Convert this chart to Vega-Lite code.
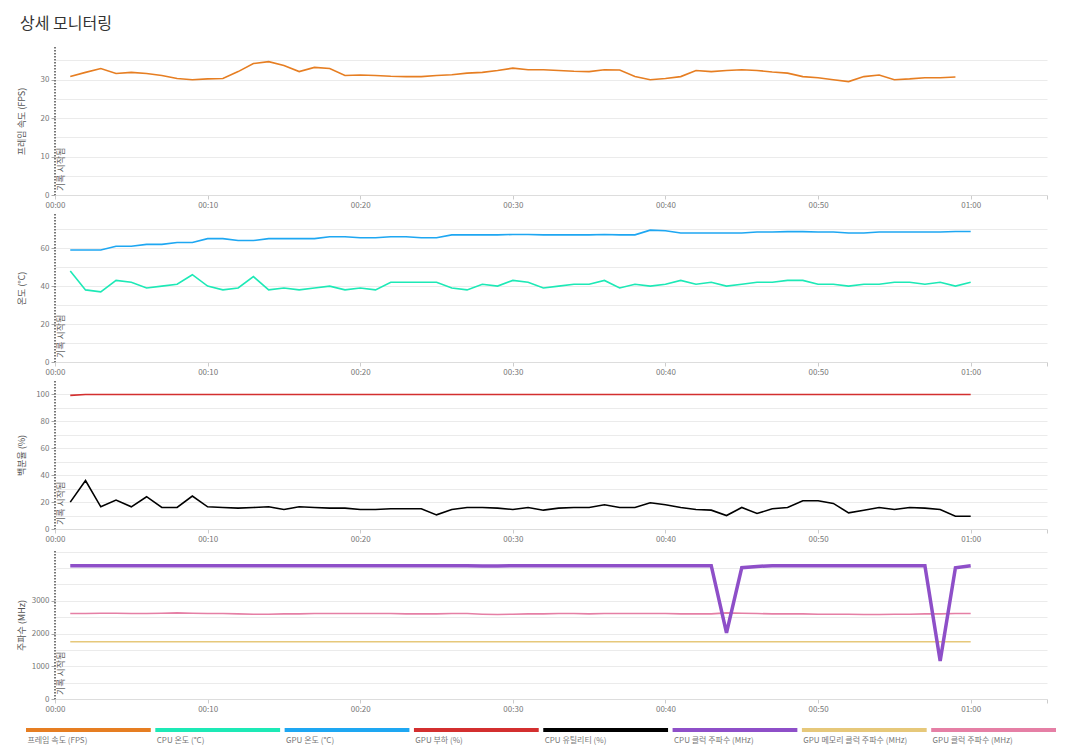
{
  "$schema": "https://vega.github.io/schema/vega-lite/v6.json",
  "background": "#ffffff",
  "padding": {"left": 17, "top": 16, "right": 20, "bottom": 5},
  "title": {"text": "상세 모니터링", "anchor": "start", "frame": "bounds", "fontSize": 16, "font": "Noto Sans CJK KR", "fontWeight": "normal", "color": "#333333", "offset": 14, "dx": 3},
  "config": {
    "font": "Noto Sans CJK KR",
    "view": {"stroke": null},
    "axis": {"labelFont": "Noto Sans CJK KR", "titleFont": "Noto Sans CJK KR", "labelFontSize": 8, "labelColor": "#777777", "titleFontSize": 9, "titleColor": "#555555", "titleFontWeight": "normal", "tickColor": "#aaaaaa", "tickSize": 4, "labelPadding": 2, "gridColor": "#ebebeb", "labelOverlap": false, "labelFlush": false, "tickCount": 30}
  },
  "datasets": {
    "rows": [
      {"t":1,"fps":30.8,"cpuT":48,"gpuT":59,"gpuL":99.3,"cpuU":20,"cpuC":4070,"gpuM":1750,"gpuC":2610},
      {"t":2,"fps":31.9,"cpuT":38,"gpuT":59,"gpuL":100,"cpuU":36,"cpuC":4070,"gpuM":1750,"gpuC":2610},
      {"t":3,"fps":32.9,"cpuT":37,"gpuT":59,"gpuL":100,"cpuU":16.5,"cpuC":4070,"gpuM":1750,"gpuC":2620},
      {"t":4,"fps":31.6,"cpuT":43,"gpuT":61,"gpuL":100,"cpuU":21.5,"cpuC":4070,"gpuM":1750,"gpuC":2620},
      {"t":5,"fps":31.9,"cpuT":42,"gpuT":61,"gpuL":100,"cpuU":16.5,"cpuC":4070,"gpuM":1750,"gpuC":2610},
      {"t":6,"fps":31.6,"cpuT":39,"gpuT":62,"gpuL":100,"cpuU":24,"cpuC":4070,"gpuM":1750,"gpuC":2610},
      {"t":7,"fps":31.1,"cpuT":40,"gpuT":62,"gpuL":100,"cpuU":16,"cpuC":4070,"gpuM":1750,"gpuC":2620},
      {"t":8,"fps":30.3,"cpuT":41,"gpuT":63,"gpuL":100,"cpuU":16,"cpuC":4070,"gpuM":1750,"gpuC":2630},
      {"t":9,"fps":30.0,"cpuT":46,"gpuT":63,"gpuL":100,"cpuU":24.5,"cpuC":4070,"gpuM":1750,"gpuC":2620},
      {"t":10,"fps":30.2,"cpuT":40,"gpuT":65,"gpuL":100,"cpuU":16.5,"cpuC":4070,"gpuM":1750,"gpuC":2610},
      {"t":11,"fps":30.3,"cpuT":38,"gpuT":65,"gpuL":100,"cpuU":16,"cpuC":4070,"gpuM":1750,"gpuC":2610},
      {"t":12,"fps":32.1,"cpuT":39,"gpuT":64,"gpuL":100,"cpuU":15.5,"cpuC":4070,"gpuM":1750,"gpuC":2600},
      {"t":13,"fps":34.2,"cpuT":45,"gpuT":64,"gpuL":100,"cpuU":16,"cpuC":4070,"gpuM":1750,"gpuC":2590},
      {"t":14,"fps":34.7,"cpuT":38,"gpuT":65,"gpuL":100,"cpuU":16.5,"cpuC":4070,"gpuM":1750,"gpuC":2590},
      {"t":15,"fps":33.7,"cpuT":39,"gpuT":65,"gpuL":100,"cpuU":14.5,"cpuC":4070,"gpuM":1750,"gpuC":2600},
      {"t":16,"fps":32.1,"cpuT":38,"gpuT":65,"gpuL":100,"cpuU":16.5,"cpuC":4070,"gpuM":1750,"gpuC":2600},
      {"t":17,"fps":33.2,"cpuT":39,"gpuT":65,"gpuL":100,"cpuU":16,"cpuC":4070,"gpuM":1750,"gpuC":2610},
      {"t":18,"fps":32.9,"cpuT":40,"gpuT":66,"gpuL":100,"cpuU":15.5,"cpuC":4070,"gpuM":1750,"gpuC":2610},
      {"t":19,"fps":31.1,"cpuT":38,"gpuT":66,"gpuL":100,"cpuU":15.5,"cpuC":4070,"gpuM":1750,"gpuC":2610},
      {"t":20,"fps":31.2,"cpuT":39,"gpuT":65.5,"gpuL":100,"cpuU":14.5,"cpuC":4070,"gpuM":1750,"gpuC":2610},
      {"t":21,"fps":31.1,"cpuT":38,"gpuT":65.5,"gpuL":100,"cpuU":14.5,"cpuC":4070,"gpuM":1750,"gpuC":2610},
      {"t":22,"fps":30.9,"cpuT":42,"gpuT":66,"gpuL":100,"cpuU":15,"cpuC":4070,"gpuM":1750,"gpuC":2610},
      {"t":23,"fps":30.8,"cpuT":42,"gpuT":66,"gpuL":100,"cpuU":15,"cpuC":4070,"gpuM":1750,"gpuC":2600},
      {"t":24,"fps":30.8,"cpuT":42,"gpuT":65.5,"gpuL":100,"cpuU":15,"cpuC":4070,"gpuM":1750,"gpuC":2600},
      {"t":25,"fps":31.1,"cpuT":42,"gpuT":65.5,"gpuL":100,"cpuU":10.5,"cpuC":4070,"gpuM":1750,"gpuC":2600},
      {"t":26,"fps":31.3,"cpuT":39,"gpuT":67,"gpuL":100,"cpuU":14.5,"cpuC":4070,"gpuM":1750,"gpuC":2610},
      {"t":27,"fps":31.7,"cpuT":38,"gpuT":67,"gpuL":100,"cpuU":16,"cpuC":4070,"gpuM":1750,"gpuC":2610},
      {"t":28,"fps":31.9,"cpuT":41,"gpuT":67,"gpuL":100,"cpuU":16,"cpuC":4060,"gpuM":1750,"gpuC":2590},
      {"t":29,"fps":32.4,"cpuT":40,"gpuT":67,"gpuL":100,"cpuU":15.5,"cpuC":4060,"gpuM":1750,"gpuC":2580},
      {"t":30,"fps":33.0,"cpuT":43,"gpuT":67.2,"gpuL":100,"cpuU":14.5,"cpuC":4070,"gpuM":1750,"gpuC":2590},
      {"t":31,"fps":32.6,"cpuT":42,"gpuT":67.2,"gpuL":100,"cpuU":16,"cpuC":4070,"gpuM":1750,"gpuC":2600},
      {"t":32,"fps":32.6,"cpuT":39,"gpuT":67,"gpuL":100,"cpuU":14,"cpuC":4070,"gpuM":1750,"gpuC":2600},
      {"t":33,"fps":32.4,"cpuT":40,"gpuT":67,"gpuL":100,"cpuU":15.5,"cpuC":4070,"gpuM":1750,"gpuC":2610},
      {"t":34,"fps":32.2,"cpuT":41,"gpuT":67,"gpuL":100,"cpuU":16,"cpuC":4070,"gpuM":1750,"gpuC":2610},
      {"t":35,"fps":32.1,"cpuT":41,"gpuT":67,"gpuL":100,"cpuU":16,"cpuC":4070,"gpuM":1750,"gpuC":2600},
      {"t":36,"fps":32.6,"cpuT":43,"gpuT":67.2,"gpuL":100,"cpuU":18,"cpuC":4070,"gpuM":1750,"gpuC":2610},
      {"t":37,"fps":32.5,"cpuT":39,"gpuT":67,"gpuL":100,"cpuU":16,"cpuC":4070,"gpuM":1750,"gpuC":2610},
      {"t":38,"fps":30.8,"cpuT":41,"gpuT":67,"gpuL":100,"cpuU":16,"cpuC":4070,"gpuM":1750,"gpuC":2610},
      {"t":39,"fps":30.0,"cpuT":40,"gpuT":69.5,"gpuL":100,"cpuU":19.5,"cpuC":4070,"gpuM":1750,"gpuC":2610},
      {"t":40,"fps":30.3,"cpuT":41,"gpuT":69.2,"gpuL":100,"cpuU":18,"cpuC":4070,"gpuM":1750,"gpuC":2610},
      {"t":41,"fps":30.8,"cpuT":43,"gpuT":68,"gpuL":100,"cpuU":16,"cpuC":4070,"gpuM":1750,"gpuC":2600},
      {"t":42,"fps":32.4,"cpuT":41,"gpuT":68,"gpuL":100,"cpuU":14.5,"cpuC":4070,"gpuM":1750,"gpuC":2600},
      {"t":43,"fps":32.1,"cpuT":42,"gpuT":68,"gpuL":100,"cpuU":14,"cpuC":4070,"gpuM":1750,"gpuC":2600},
      {"t":44,"fps":32.4,"cpuT":40,"gpuT":68,"gpuL":100,"cpuU":10,"cpuC":2020,"gpuM":1750,"gpuC":2630},
      {"t":45,"fps":32.6,"cpuT":41,"gpuT":68,"gpuL":100,"cpuU":16,"cpuC":4010,"gpuM":1750,"gpuC":2620},
      {"t":46,"fps":32.4,"cpuT":42,"gpuT":68.5,"gpuL":100,"cpuU":11.5,"cpuC":4050,"gpuM":1750,"gpuC":2610},
      {"t":47,"fps":32.0,"cpuT":42,"gpuT":68.5,"gpuL":100,"cpuU":15,"cpuC":4070,"gpuM":1750,"gpuC":2600},
      {"t":48,"fps":31.7,"cpuT":43,"gpuT":68.7,"gpuL":100,"cpuU":16,"cpuC":4070,"gpuM":1750,"gpuC":2600},
      {"t":49,"fps":30.8,"cpuT":43,"gpuT":68.7,"gpuL":100,"cpuU":21,"cpuC":4070,"gpuM":1750,"gpuC":2600},
      {"t":50,"fps":30.5,"cpuT":41,"gpuT":68.5,"gpuL":100,"cpuU":21,"cpuC":4070,"gpuM":1750,"gpuC":2590},
      {"t":51,"fps":30.0,"cpuT":41,"gpuT":68.5,"gpuL":100,"cpuU":19,"cpuC":4070,"gpuM":1750,"gpuC":2590},
      {"t":52,"fps":29.5,"cpuT":40,"gpuT":68,"gpuL":100,"cpuU":12,"cpuC":4070,"gpuM":1750,"gpuC":2590},
      {"t":53,"fps":30.8,"cpuT":41,"gpuT":68,"gpuL":100,"cpuU":14,"cpuC":4070,"gpuM":1750,"gpuC":2580},
      {"t":54,"fps":31.2,"cpuT":41,"gpuT":68.5,"gpuL":100,"cpuU":16,"cpuC":4070,"gpuM":1750,"gpuC":2580},
      {"t":55,"fps":30.0,"cpuT":42,"gpuT":68.5,"gpuL":100,"cpuU":14.5,"cpuC":4070,"gpuM":1750,"gpuC":2590},
      {"t":56,"fps":30.2,"cpuT":42,"gpuT":68.5,"gpuL":100,"cpuU":16,"cpuC":4070,"gpuM":1750,"gpuC":2590},
      {"t":57,"fps":30.5,"cpuT":41,"gpuT":68.5,"gpuL":100,"cpuU":15.5,"cpuC":4070,"gpuM":1750,"gpuC":2600},
      {"t":58,"fps":30.5,"cpuT":42,"gpuT":68.5,"gpuL":100,"cpuU":14.5,"cpuC":1160,"gpuM":1750,"gpuC":2600},
      {"t":59,"fps":30.7,"cpuT":40,"gpuT":68.8,"gpuL":100,"cpuU":9.5,"cpuC":4010,"gpuM":1750,"gpuC":2610},
      {"t":60,"fps":null,"cpuT":42,"gpuT":68.8,"gpuL":100,"cpuU":9.5,"cpuC":4070,"gpuM":1750,"gpuC":2610}
    ],
    "marker": [{"t": 0, "label": "기록 시작됨"}],
    "legendItems": [
      {"k": "fps", "label": "프레임 속도 (FPS)"},
      {"k": "cpuT", "label": "CPU 온도 (°C)"},
      {"k": "gpuT", "label": "GPU 온도 (°C)"},
      {"k": "gpuL", "label": "GPU 부하 (%)"},
      {"k": "cpuU", "label": "CPU 유틸리티 (%)"},
      {"k": "cpuC", "label": "CPU 클럭 주파수 (MHz)"},
      {"k": "gpuM", "label": "GPU 메모리 클럭 주파수 (MHz)"},
      {"k": "gpuC", "label": "GPU 클럭 주파수 (MHz)"}
    ]
  },
  "vconcat": [
    {
      "spacing": 4,
      "vconcat": [
        {
          "width": 992, "height": 148,
          "layer": [
            {"data": {"name": "marker"}, "mark": {"type": "rule", "strokeDash": [1.5, 1.5], "strokeWidth": 2, "color": "#777777"}, "encoding": {"x": {"field": "t", "type": "quantitative"}}},
            {"data": {"name": "marker"}, "mark": {"type": "text", "angle": 270, "align": "left", "baseline": "top", "dx": 4, "dy": 2, "fontSize": 9, "color": "#666666"}, "encoding": {"x": {"field": "t", "type": "quantitative"}, "y": {"datum": 0, "type": "quantitative"}, "text": {"field": "label"}}},
            {"data": {"name": "rows"}, "transform": [{"fold": ["fps"], "as": ["k", "v"]}],
             "mark": {"type": "line", "strokeWidth": 1.6},
             "encoding": {
               "x": {"field": "t", "type": "quantitative", "scale": {"domain": [0, 65], "nice": false}, "axis": {"title": null, "values": [0,10,20,30,40,50,60,65], "labelExpr": "datum.value > 60 ? '' : format(floor(datum.value/60),'02d') + ':' + format(datum.value%60,'02d')", "grid": false, "domainColor": "#dddddd", "tickColor": "#cccccc"}},
               "y": {"field": "v", "type": "quantitative", "scale": {"domain": [0, 38.5], "nice": false}, "axis": {"title": "프레임 속도 (FPS)", "titleX": -29, "titleY": 74, "grid": true, "domain": false, "tickCount": 30, "values": [0,5,10,15,20,25,30,35], "labelExpr": "datum.value % 10 === 0 ? datum.label : ''", "tickOpacity": {"condition": {"test": "datum.value % 10 === 0", "value": 1}, "value": 0}}},
               "color": {"field": "k", "type": "nominal", "scale": {"domain": ["fps","cpuT","gpuT","gpuL","cpuU","cpuC","gpuM","gpuC"], "range": ["#e67e22","#1de9b6","#1ea7f2","#d32f2f","#000000","#8e4fc8","#e6c87a","#e57fa5"]}, "legend": null}
             }}
          ]
        },
        {
          "width": 992, "height": 148,
          "layer": [
            {"data": {"name": "marker"}, "mark": {"type": "rule", "strokeDash": [1.5, 1.5], "strokeWidth": 2, "color": "#777777"}, "encoding": {"x": {"field": "t", "type": "quantitative"}}},
            {"data": {"name": "marker"}, "mark": {"type": "text", "angle": 270, "align": "left", "baseline": "top", "dx": 4, "dy": 2, "fontSize": 9, "color": "#666666"}, "encoding": {"x": {"field": "t", "type": "quantitative"}, "y": {"datum": 0, "type": "quantitative"}, "text": {"field": "label"}}},
            {"data": {"name": "rows"}, "transform": [{"fold": ["gpuT", "cpuT"], "as": ["k", "v"]}],
             "mark": {"type": "line", "strokeWidth": 1.6},
             "encoding": {
               "x": {"field": "t", "type": "quantitative", "scale": {"domain": [0, 65], "nice": false}, "axis": {"title": null, "values": [0,10,20,30,40,50,60,65], "labelExpr": "datum.value > 60 ? '' : format(floor(datum.value/60),'02d') + ':' + format(datum.value%60,'02d')", "grid": false, "domainColor": "#dddddd", "tickColor": "#cccccc"}},
               "y": {"field": "v", "type": "quantitative", "scale": {"domain": [0, 78], "nice": false}, "axis": {"title": "온도 (°C)", "titleX": -29, "titleY": 74, "grid": true, "domain": false, "tickCount": 30, "values": [0,10,20,30,40,50,60,70], "labelExpr": "datum.value % 20 === 0 ? datum.label : ''", "tickOpacity": {"condition": {"test": "datum.value % 20 === 0", "value": 1}, "value": 0}}},
               "color": {"field": "k", "type": "nominal", "scale": {"domain": ["fps","cpuT","gpuT","gpuL","cpuU","cpuC","gpuM","gpuC"], "range": ["#e67e22","#1de9b6","#1ea7f2","#d32f2f","#000000","#8e4fc8","#e6c87a","#e57fa5"]}, "legend": null}
             }}
          ]
        },
        {
          "width": 992, "height": 148,
          "layer": [
            {"data": {"name": "marker"}, "mark": {"type": "rule", "strokeDash": [1.5, 1.5], "strokeWidth": 2, "color": "#777777"}, "encoding": {"x": {"field": "t", "type": "quantitative"}}},
            {"data": {"name": "marker"}, "mark": {"type": "text", "angle": 270, "align": "left", "baseline": "top", "dx": 4, "dy": 2, "fontSize": 9, "color": "#666666"}, "encoding": {"x": {"field": "t", "type": "quantitative"}, "y": {"datum": 0, "type": "quantitative"}, "text": {"field": "label"}}},
            {"data": {"name": "rows"}, "transform": [{"fold": ["gpuL", "cpuU"], "as": ["k", "v"]}],
             "mark": {"type": "line", "strokeWidth": 1.6},
             "encoding": {
               "x": {"field": "t", "type": "quantitative", "scale": {"domain": [0, 65], "nice": false}, "axis": {"title": null, "values": [0,10,20,30,40,50,60,65], "labelExpr": "datum.value > 60 ? '' : format(floor(datum.value/60),'02d') + ':' + format(datum.value%60,'02d')", "grid": false, "domainColor": "#dddddd", "tickColor": "#cccccc"}},
               "y": {"field": "v", "type": "quantitative", "scale": {"domain": [0, 110], "nice": false}, "axis": {"title": "백분율 (%)", "titleX": -29, "titleY": 74, "grid": true, "domain": false, "tickCount": 30, "values": [0,10,20,30,40,50,60,70,80,90,100], "labelExpr": "datum.value % 20 === 0 ? datum.label : ''", "tickOpacity": {"condition": {"test": "datum.value % 20 === 0", "value": 1}, "value": 0}}},
               "color": {"field": "k", "type": "nominal", "scale": {"domain": ["fps","cpuT","gpuT","gpuL","cpuU","cpuC","gpuM","gpuC"], "range": ["#e67e22","#1de9b6","#1ea7f2","#d32f2f","#000000","#8e4fc8","#e6c87a","#e57fa5"]}, "legend": null}
             }}
          ]
        },
        {
          "width": 992, "height": 148,
          "layer": [
            {"data": {"name": "marker"}, "mark": {"type": "rule", "strokeDash": [1.5, 1.5], "strokeWidth": 2, "color": "#777777"}, "encoding": {"x": {"field": "t", "type": "quantitative"}}},
            {"data": {"name": "marker"}, "mark": {"type": "text", "angle": 270, "align": "left", "baseline": "top", "dx": 4, "dy": 2, "fontSize": 9, "color": "#666666"}, "encoding": {"x": {"field": "t", "type": "quantitative"}, "y": {"datum": 0, "type": "quantitative"}, "text": {"field": "label"}}},
            {"data": {"name": "rows"}, "transform": [{"fold": ["gpuM", "gpuC"], "as": ["k", "v"]}],
             "mark": {"type": "line", "strokeWidth": 1.6},
             "encoding": {
               "x": {"field": "t", "type": "quantitative", "scale": {"domain": [0, 65], "nice": false}, "axis": {"title": null, "values": [0,10,20,30,40,50,60,65], "labelExpr": "datum.value > 60 ? '' : format(floor(datum.value/60),'02d') + ':' + format(datum.value%60,'02d')", "grid": false, "domainColor": "#dddddd", "tickColor": "#cccccc"}},
               "y": {"field": "v", "type": "quantitative", "scale": {"domain": [0, 4520], "nice": false}, "axis": {"title": "주파수 (MHz)", "titleX": -29, "titleY": 74, "grid": true, "domain": false, "tickCount": 30, "values": [0,500,1000,1500,2000,2500,3000,3500,4000,4500], "format": "d", "labelExpr": "datum.value % 1000 === 0 && datum.value < 4000 ? datum.label : ''", "tickOpacity": {"condition": {"test": "datum.value % 1000 === 0 && datum.value < 4000", "value": 1}, "value": 0}}},
               "color": {"field": "k", "type": "nominal", "scale": {"domain": ["fps","cpuT","gpuT","gpuL","cpuU","cpuC","gpuM","gpuC"], "range": ["#e67e22","#1de9b6","#1ea7f2","#d32f2f","#000000","#8e4fc8","#e6c87a","#e57fa5"]}, "legend": null}
             }},
            {"data": {"name": "rows"}, "transform": [{"fold": ["cpuC"], "as": ["k", "v"]}],
             "mark": {"type": "line", "strokeWidth": 3.5},
             "encoding": {
               "x": {"field": "t", "type": "quantitative"},
               "y": {"field": "v", "type": "quantitative"},
               "color": {"field": "k", "type": "nominal", "scale": {"domain": ["fps","cpuT","gpuT","gpuL","cpuU","cpuC","gpuM","gpuC"], "range": ["#e67e22","#1de9b6","#1ea7f2","#d32f2f","#000000","#8e4fc8","#e6c87a","#e57fa5"]}, "legend": null}
             }}
          ]
        }
      ]
    },
    {
      "width": 992, "height": 4,
      "data": {"name": "legendItems"},
      "layer": [
        {"mark": {"type": "rect"},
         "encoding": {
           "x": {"field": "k", "type": "nominal", "scale": {"type": "band", "domain": ["fps","cpuT","gpuT","gpuL","cpuU","cpuC","gpuM","gpuC"], "range": [-29, 1001], "paddingInner": 0.035, "paddingOuter": 0}, "axis": null},
           "color": {"field": "k", "type": "nominal", "scale": {"domain": ["fps","cpuT","gpuT","gpuL","cpuU","cpuC","gpuM","gpuC"], "range": ["#e67e22","#1de9b6","#1ea7f2","#d32f2f","#000000","#8e4fc8","#e6c87a","#e57fa5"]}, "legend": null}
         }},
        {"mark": {"type": "text", "align": "left", "baseline": "top", "dx": -61, "dy": 7, "fontSize": 8, "color": "#777777"},
         "encoding": {
           "x": {"field": "k", "type": "nominal"},
           "text": {"field": "label"}
         }}
      ]
    }
  ],
  "spacing": 15
}
